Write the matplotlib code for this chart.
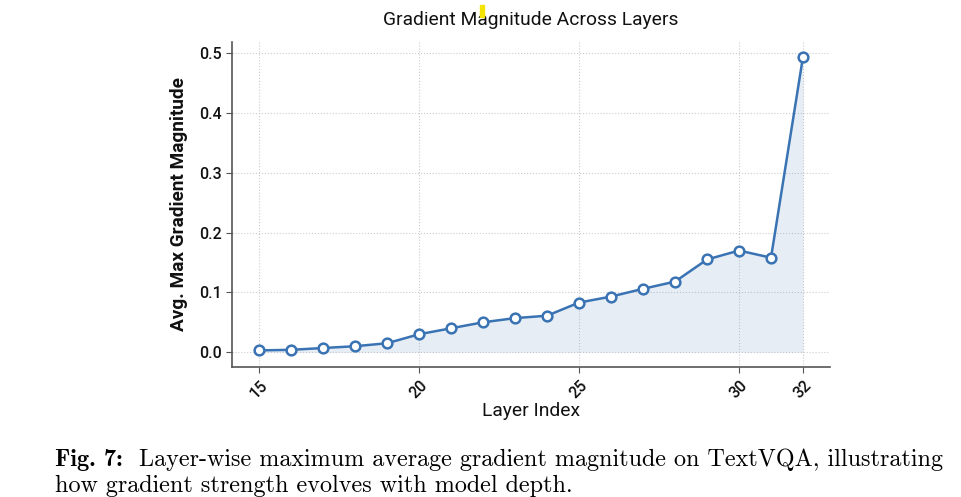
import matplotlib
matplotlib.use("Agg")
import matplotlib.pyplot as plt
from matplotlib.patches import Rectangle

layers = list(range(15, 33))
grad_mag = [0.003, 0.004, 0.007, 0.010, 0.015, 0.030, 0.040, 0.050, 0.057, 0.061,
            0.083, 0.093, 0.106, 0.118, 0.155, 0.170, 0.158, 0.494]
xticks = [15, 20, 25, 30, 32]
yticks = [0.0, 0.1, 0.2, 0.3, 0.4, 0.5]

title = "Gradient Magnitude Across Layers"
xlabel = "Layer Index"
ylabel = "Avg. Max Gradient Magnitude"
cap_bold = "Fig. 7:"
cap_line1 = "Layer-wise maximum average gradient magnitude on TextVQA, illustrating"
cap_line2 = "how gradient strength evolves with model depth."

plt.rcParams['font.family'] = ['Roboto', 'DejaVu Sans']

fig = plt.figure(figsize=(9.62, 4.97), dpi=100)
ax = fig.add_axes([0.241, 0.2616, 0.622, 0.654])

color = "#3a73b3"
ax.fill_between(layers, grad_mag, 0, color=color, alpha=0.12, linewidth=0)
ax.plot(layers, grad_mag, color=color, linewidth=1.8, marker='o', markersize=7,
        markerfacecolor='white', markeredgecolor=color, markeredgewidth=1.8, zorder=3)

ax.set_xticks(xticks)
ax.set_yticks(yticks)
ax.set_yticklabels([f"{v:.1f}" for v in yticks])
ax.tick_params(axis='x', labelrotation=45, labelsize=11.5, colors='#111111', length=4)
ax.tick_params(axis='y', labelsize=11.5, colors='#111111', length=4)
for lab in ax.get_xticklabels() + ax.get_yticklabels():
    lab.set_fontweight('medium')
for lab in ax.get_xticklabels():
    lab.set_ha('center')
    lab.set_va('top')
ax.tick_params(axis='both', color='#555555')

ax.grid(True, linestyle=':', color='#cccccc', linewidth=0.8)
ax.set_axisbelow(True)
for s in ['top', 'right']:
    ax.spines[s].set_visible(False)
for s in ['left', 'bottom']:
    ax.spines[s].set_color('#555555')
    ax.spines[s].set_linewidth(1.2)

ax.set_title(title, fontsize=13.9, color='#111111', pad=12)
ax.set_xlabel(xlabel, fontsize=13.9, color='#111111', labelpad=1)
ax.set_ylabel(ylabel, fontsize=13.7, color='#111111', fontweight='bold', labelpad=8)

# small highlight mark seen in the title area
fig.patches.append(Rectangle((480/962, 1-17/497), 4/962, 12/497, transform=fig.transFigure,
                             color='#f5e400', zorder=5))

fig.text(55/962, 1-460/497, cap_bold, family='cmb10', fontsize=17.5, va='center', ha='left')
fig.text(139/962, 1-460/497, cap_line1, family='cmr10', fontsize=17.35, va='center', ha='left')
fig.text(55/962, 1-486/497, cap_line2, family='cmr10', fontsize=17.35, va='center', ha='left')

fig.savefig("out.png", dpi=100)
